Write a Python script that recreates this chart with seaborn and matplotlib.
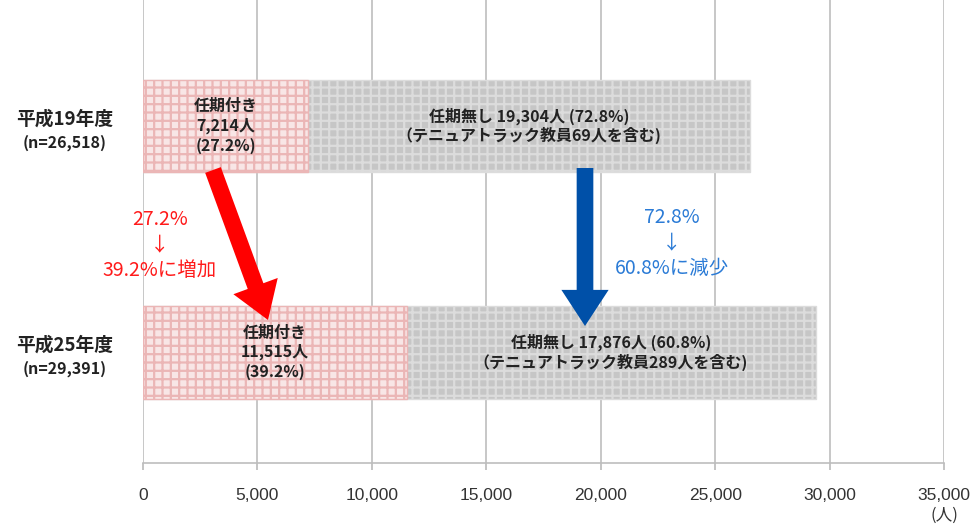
import matplotlib
matplotlib.use("Agg")
import matplotlib.pyplot as plt
import seaborn as sns
import pandas as pd
import numpy as np

categories = ["平成19年度\n(n=26,518)", "平成25年度\n(n=29,391)"]
fixed_term = [7214, 11515]
permanent = [19304, 17876]
fixed_pct = ["27.2%", "39.2%"]
perm_pct = ["72.8%", "60.8%"]
tenure = [69, 289]
xticks = [0, 5000, 10000, 15000, 20000, 25000, 30000, 35000]

sns.set_theme(style="white")
plt.rcParams['font.family'] = ['Noto Sans CJK JP', 'DejaVu Sans']
plt.rcParams['hatch.linewidth'] = 1.6

totals = [f + p for f, p in zip(fixed_term, permanent)]
df = pd.DataFrame({"cat": categories, "fixed": fixed_term, "total": totals})

fig = plt.figure(figsize=(9.74, 5.25), dpi=100)
ax = fig.add_axes([143/974, 1 - 463/525, (944-143)/974, 463/525])

sns.barplot(data=df, x="total", y="cat", orient="h", color="#c8c8c8", width=0.41, ax=ax)
sns.barplot(data=df, x="fixed", y="cat", orient="h", color="#f7e2e2", width=0.41, ax=ax)

for i, p in enumerate(ax.patches):
    if i < 2:
        p.set_facecolor("#c6c6c6"); p.set_edgecolor("#dcdcdc"); p.set_hatch("++")
    else:
        p.set_facecolor("#f8e6e6"); p.set_edgecolor("#ebb6b6"); p.set_hatch("++")
    p.set_linewidth(1.0)
    p.set_zorder(2)

ax.set_xlim(0, 35000)
ax.set_ylim(1.49, -0.557)
ax.set_xticks(xticks)
ax.set_xticklabels([f"{v:,}" for v in xticks], fontsize=12.5, color="#333333",
                   family=['Liberation Sans Narrow', 'Liberation Sans', 'DejaVu Sans'])
ax.xaxis.grid(True, color="#bdbdbd", linewidth=1.2, zorder=0)
ax.set_axisbelow(True)
ax.tick_params(axis='x', bottom=True, length=5, color="#bdbdbd", pad=13)
for s in ["top", "right", "left"]:
    ax.spines[s].set_visible(False)
ax.spines["bottom"].set_color("#bdbdbd")
ax.spines["bottom"].set_linewidth(1.2)
ax.set_xlabel(""); ax.set_ylabel("")
ax.set_yticks([0, 1])
ax.set_yticklabels(["", ""])
ax.tick_params(axis='y', left=False)

for i in range(2):
    name, n = categories[i].split("\n")
    fig.text(65/974, 1 - (119 + i*226)/525, name, ha="center", va="center",
             fontsize=13.5, fontweight="bold", color="#222222")
    fig.text(65/974, 1 - (143 + i*226)/525, n, ha="center", va="center",
             fontsize=11.5, fontweight="bold", color="#222222")
    ax.text(fixed_term[i] / 2, i, f"任期付き\n{fixed_term[i]:,}人\n({fixed_pct[i]})",
            ha="center", va="center", fontsize=11.5, fontweight="bold", color="#222222",
            linespacing=1.25, zorder=5)
    ax.text(fixed_term[i] + permanent[i] / 2, i,
            f"任期無し {permanent[i]:,}人 ({perm_pct[i]})\n（テニュアトラック教員{tenure[i]}人を含む)",
            ha="center", va="center", fontsize=11.5, fontweight="bold", color="#222222",
            linespacing=1.15, zorder=5)

fig.text(944/974, 1 - 515/525, "(人)", ha="center", va="center", fontsize=12, color="#333333")

def arrow(x0, y0, x1, y1, color):
    ax.annotate("", xy=(x1, y1), xytext=(x0, y0), xycoords=ax.transData,
                arrowprops=dict(arrowstyle="simple,head_length=1.3,head_width=1.7,tail_width=0.6",
                                color=color, lw=0, mutation_scale=20, shrinkA=0, shrinkB=0,
                                capstyle="round"),
                zorder=6)

def px2data(px, py):
    inv = ax.transData.inverted()
    return inv.transform((px, 525 - py))

fig.canvas.draw()
a0 = px2data(213, 170); a1 = px2data(268, 320)
arrow(a0[0], a0[1], a1[0], a1[1], "#ff0000")
b0 = px2data(585, 168); b1 = px2data(585, 326)
arrow(b0[0], b0[1], b1[0], b1[1], "#0050a8")

fig.text(160/974, 1 - 245/525, "27.2%\n↓\n39.2%に増加", ha="center", va="center",
         fontsize=14, color="#ff1a1a", linespacing=1.3)
fig.text(672/974, 1 - 243/525, "72.8%\n↓\n60.8%に減少", ha="center", va="center",
         fontsize=14, color="#2b7bd6", linespacing=1.3)

fig.savefig("out.png", dpi=100)
